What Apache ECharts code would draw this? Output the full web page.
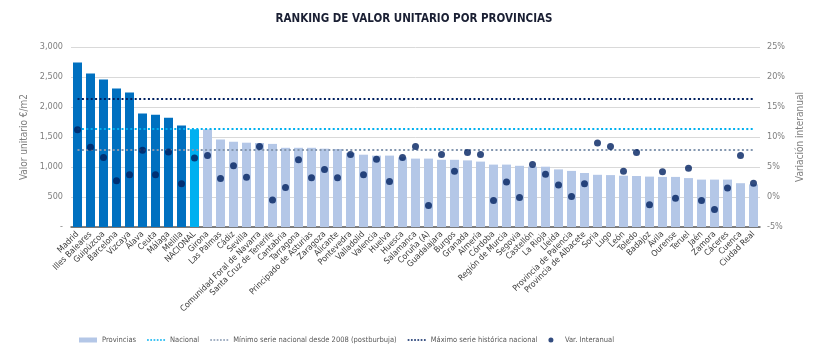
<!DOCTYPE html>
<html>
<head>
<meta charset="utf-8">
<script src="https://cdn.jsdelivr.net/npm/echarts@6/dist/echarts.min.js"></script>
<style>html,body{margin:0;padding:0;background:#fff}#c{width:828px;height:360px}</style>
</head>
<body>
<div id="c"></div>
<script>
const categorias = ["Madrid","Illes Baleares","Guipúzcoa","Barcelona","Vizcaya","Álava","Ceuta","Málaga","Melilla","NACIONAL","Girona","Las Palmas","Cádiz","Sevilla","Comunidad Foral de Navarra","Santa Cruz de Tenerife","Cantabria","Tarragona","Principado de Asturias","Zaragoza","Alicante","Pontevedra","Valladolid","Valencia","Huelva","Huesca","Salamanca","Coruña (A)","Guadalajara","Burgos","Granada","Almería","Córdoba","Región de Murcia","Segovia","Castellón","La Rioja","Lleida","Provincia de Palencia","Provincia de Albacete","Soria","Lugo","León","Toledo","Badajoz","Ávila","Ourense","Teruel","Jaén","Zamora","Cáceres","Cuenca","Ciudad Real"];
const valorUnitario = [2740,2560,2460,2310,2240,1890,1870,1820,1690,1630,1630,1460,1420,1405,1400,1385,1320,1320,1320,1305,1300,1235,1205,1190,1190,1160,1140,1140,1120,1120,1110,1090,1040,1040,1020,1005,1005,960,935,900,870,865,855,850,840,835,835,815,790,790,790,730,710];
const varInteranual = [11.2,8.3,6.6,2.7,3.7,7.8,3.7,7.5,2.2,6.5,6.9,3.1,5.2,3.3,8.4,-0.5,1.6,6.2,3.2,4.6,3.2,7.1,3.7,6.3,2.6,6.6,8.4,-1.4,7.1,4.3,7.4,7.1,-0.6,2.5,-0.1,5.4,3.8,2.0,0.1,2.2,9.0,8.4,4.3,7.4,-1.3,4.2,-0.2,4.8,-0.6,-2.1,1.5,6.9,2.3];
const nacional = 1630;
const minimoPostburbuja = 1285;
const maximoHistorico = 2130;
const grupoAlto = 9; // provinces above national

const FONT = "'Liberation Sans Narrow','DejaVu Sans Condensed','Liberation Sans',sans-serif";
const C_DARK = '#0070c0', C_NAC = '#00b0f0', C_LIGHT = '#b4c7e7', C_DOT = '#002060', C_MIN = '#8497b0', C_MAX = '#002060';
const DOT_ICON = 'path://M0,0h1.6v1.6h-1.6z M3,0h1.6v1.6h-1.6z M6,0h1.6v1.6h-1.6z M9,0h1.6v1.6h-1.6z M12,0h1.6v1.6h-1.6z M15,0h1.6v1.6h-1.6z';

const barData = valorUnitario.map((v, i) => {
  if (categorias[i] === 'NACIONAL') return { value: v, itemStyle: { color: C_NAC } };
  if (i < grupoAlto) return { value: v, itemStyle: { color: C_DARK } };
  return v;
});
const last = categorias.length - 1;
const DOTS = [2, 2.4];
function refLine(v, color) {
  return {
    silent: true, symbol: 'none', label: { show: false },
    lineStyle: { color: color, width: 2, type: DOTS },
    data: [[{ coord: [0, v] }, { coord: [last, v] }]]
  };
}
const chart = echarts.init(document.getElementById('c'), null, { renderer: 'canvas' });
chart.setOption({
  animation: false,
  textStyle: { fontFamily: FONT },
  title: { text: 'RANKING DE VALOR UNITARIO POR PROVINCIAS', left: 'center', top: 8, textStyle: { fontFamily: FONT, fontSize: 11.5, fontWeight: 'bold', color: '#1a1f33' } },
  legend: {
    left: 74, top: 331, itemWidth: 18, itemHeight: 5, itemGap: 11, selectedMode: false,
    textStyle: { fontFamily: FONT, fontSize: 7.5, color: '#595959' },
    data: [
      { name: 'Provincias', icon: 'rect' },
      { name: 'Nacional', icon: DOT_ICON, itemStyle: { color: C_NAC } },
      { name: 'Mínimo serie nacional desde 2008 (postburbuja)', icon: DOT_ICON, itemStyle: { color: C_MIN } },
      { name: 'Máximo serie histórica nacional', icon: DOT_ICON, itemStyle: { color: C_MAX } },
      { name: 'Var. Interanual', icon: 'circle', itemStyle: { color: C_DOT } }
    ]
  },
  grid: { left: 71, right: 68, top: 47, bottom: 133 },
  xAxis: {
    type: 'category', data: categorias,
    axisTick: { show: false },
    axisLine: { lineStyle: { color: '#595959', width: 1.5 } },
    axisLabel: { interval: 0, rotate: 45, margin: 6, fontFamily: FONT, fontSize: 8.5, color: '#3a3a3a' }
  },
  yAxis: [
    {
      type: 'value', min: 0, max: 3000, interval: 500,
      name: 'Valor unitario €/m2', nameLocation: 'middle', nameGap: 34, nameRotate: 90,
      nameTextStyle: { fontFamily: FONT, fontSize: 10, color: '#7f7f7f' },
      axisLine: { show: false }, axisTick: { show: false },
      splitLine: { lineStyle: { color: '#d9d9d9', width: 1 } },
      axisLabel: { margin: 8, fontFamily: FONT, fontSize: 9, color: '#7f7f7f',
        formatter: v => v === 0 ? '-' : v.toLocaleString('en-US') }
    },
    {
      type: 'value', min: -5, max: 25, interval: 5,
      name: 'Variación interanual', nameLocation: 'middle', nameGap: 23, nameRotate: 90,
      nameTextStyle: { fontFamily: FONT, fontSize: 10, color: '#7f7f7f' },
      axisLine: { show: false }, axisTick: { show: false }, splitLine: { show: false },
      axisLabel: { margin: 7, fontFamily: FONT, fontSize: 9, color: '#7f7f7f', formatter: v => v + '%' }
    }
  ],
  series: [
    { name: 'Provincias', type: 'bar', data: barData, barWidth: 9, itemStyle: { color: C_LIGHT } },
    { name: 'Nacional', type: 'line', data: [], symbol: 'none', lineStyle: { color: C_NAC, width: 2, type: DOTS }, itemStyle: { color: C_NAC }, markLine: refLine(nacional, C_NAC) },
    { name: 'Mínimo serie nacional desde 2008 (postburbuja)', type: 'line', data: [], symbol: 'none', lineStyle: { color: C_MIN, width: 2, type: DOTS }, itemStyle: { color: C_MIN }, markLine: refLine(minimoPostburbuja, C_MIN) },
    { name: 'Máximo serie histórica nacional', type: 'line', data: [], symbol: 'none', lineStyle: { color: C_MAX, width: 2, type: DOTS }, itemStyle: { color: C_MAX }, markLine: refLine(maximoHistorico, C_MAX) },
    { name: 'Var. Interanual', type: 'scatter', yAxisIndex: 1, data: varInteranual, symbolSize: 7, itemStyle: { color: C_DOT }, z: 5 }
  ]
});
</script>
</body>
</html>
